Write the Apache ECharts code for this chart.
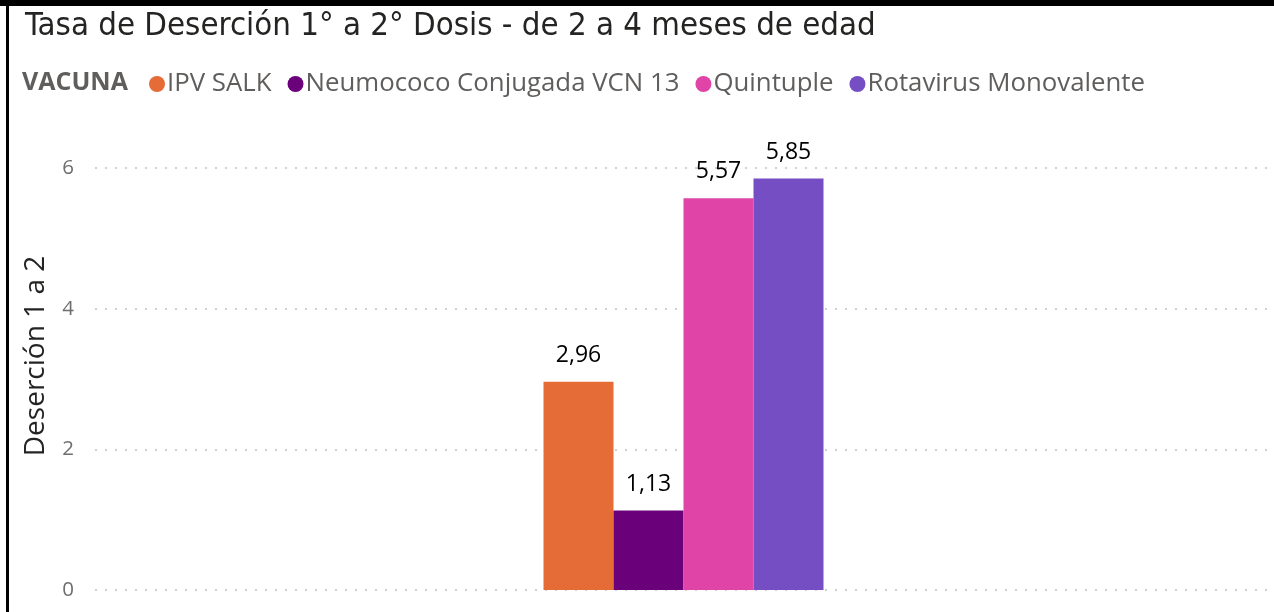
<!DOCTYPE html>
<html>
<head>
<meta charset="utf-8">
<script src="https://cdn.jsdelivr.net/npm/echarts@6/dist/echarts.min.js"></script>
<style>
  html, body { margin: 0; padding: 0; background: #fff; }
  #chart { width: 1274px; height: 612px; }
</style>
</head>
<body>
<div id="chart"></div>
<script>
// Tasa de deserción entre 1° y 2° dosis, por vacuna
const vacunas = ['IPV SALK', 'Neumococo Conjugada VCN 13', 'Quintuple', 'Rotavirus Monovalente'];
const desercion = [2.96, 1.13, 5.57, 5.85];
const colores = ['#E66C37', '#6B007B', '#E044A7', '#744EC2'];
const yTicks = [0, 2, 4, 6];

const chart = echarts.init(document.getElementById('chart'));

const series = vacunas.map((nombre, i) => ({
  name: nombre,
  type: 'bar',
  data: [desercion[i]],
  barWidth: 70,
  barGap: '0%',
  itemStyle: { color: colores[i] },
  label: {
    show: true,
    position: 'top',
    distance: 15,
    color: '#000',
    fontFamily: 'Open Sans',
    fontSize: 23,
    formatter: p => p.value.toFixed(2).replace('.', ',')
  }
}));

chart.setOption({
  animation: false,
  backgroundColor: '#fff',
  title: {
    text: 'Tasa de Deserción 1° a 2° Dosis - de 2 a 4 meses de edad',
    left: 20,
    top: 5,
    textStyle: { fontFamily: 'DejaVu Sans Condensed', fontWeight: 'normal', fontSize: 32.7, color: '#252423' }
  },
  legend: {
    left: 144,
    top: 66,
    icon: 'circle',
    itemWidth: 16,
    itemHeight: 16,
    itemGap: 16,
    data: vacunas,
    textStyle: { fontFamily: 'Open Sans', fontSize: 25.8, color: '#605E5C', padding: [0, 0, 0, -3] }
  },
  grid: { left: 95, right: 2, top: 168, bottom: 22 },
  xAxis: {
    type: 'category',
    data: [''],
    axisLine: { show: false },
    axisTick: { show: false },
    axisLabel: { show: false }
  },
  yAxis: {
    type: 'value',
    min: yTicks[0],
    max: yTicks[yTicks.length - 1],
    interval: 2,
    axisLine: { show: false },
    axisTick: { show: false },
    axisLabel: { fontFamily: 'Open Sans', fontSize: 20.5, color: '#6E6E6E', margin: 21 },
    splitLine: { lineStyle: { type: [2, 8], width: 2, color: '#D0D0D0' } }
  },
  graphic: [
    { type: 'rect', shape: { x: 0, y: 0, width: 1274, height: 6 }, style: { fill: '#000' } },
    { type: 'rect', shape: { x: 6, y: 0, width: 3, height: 612 }, style: { fill: '#000' } },
    {
      type: 'text', left: 22, top: 70,
      style: { text: 'VACUNA', font: 'bold 25px "Open Sans"', fill: '#605E5C' }
    },
    {
      type: 'text', x: 36, y: 356, rotation: Math.PI / 2,
      style: {
        text: 'Deserción 1 a 2', font: '28px "Open Sans"', fill: '#252423',
        align: 'center', verticalAlign: 'middle'
      }
    }
  ],
  series: series
});
</script>
</body>
</html>
